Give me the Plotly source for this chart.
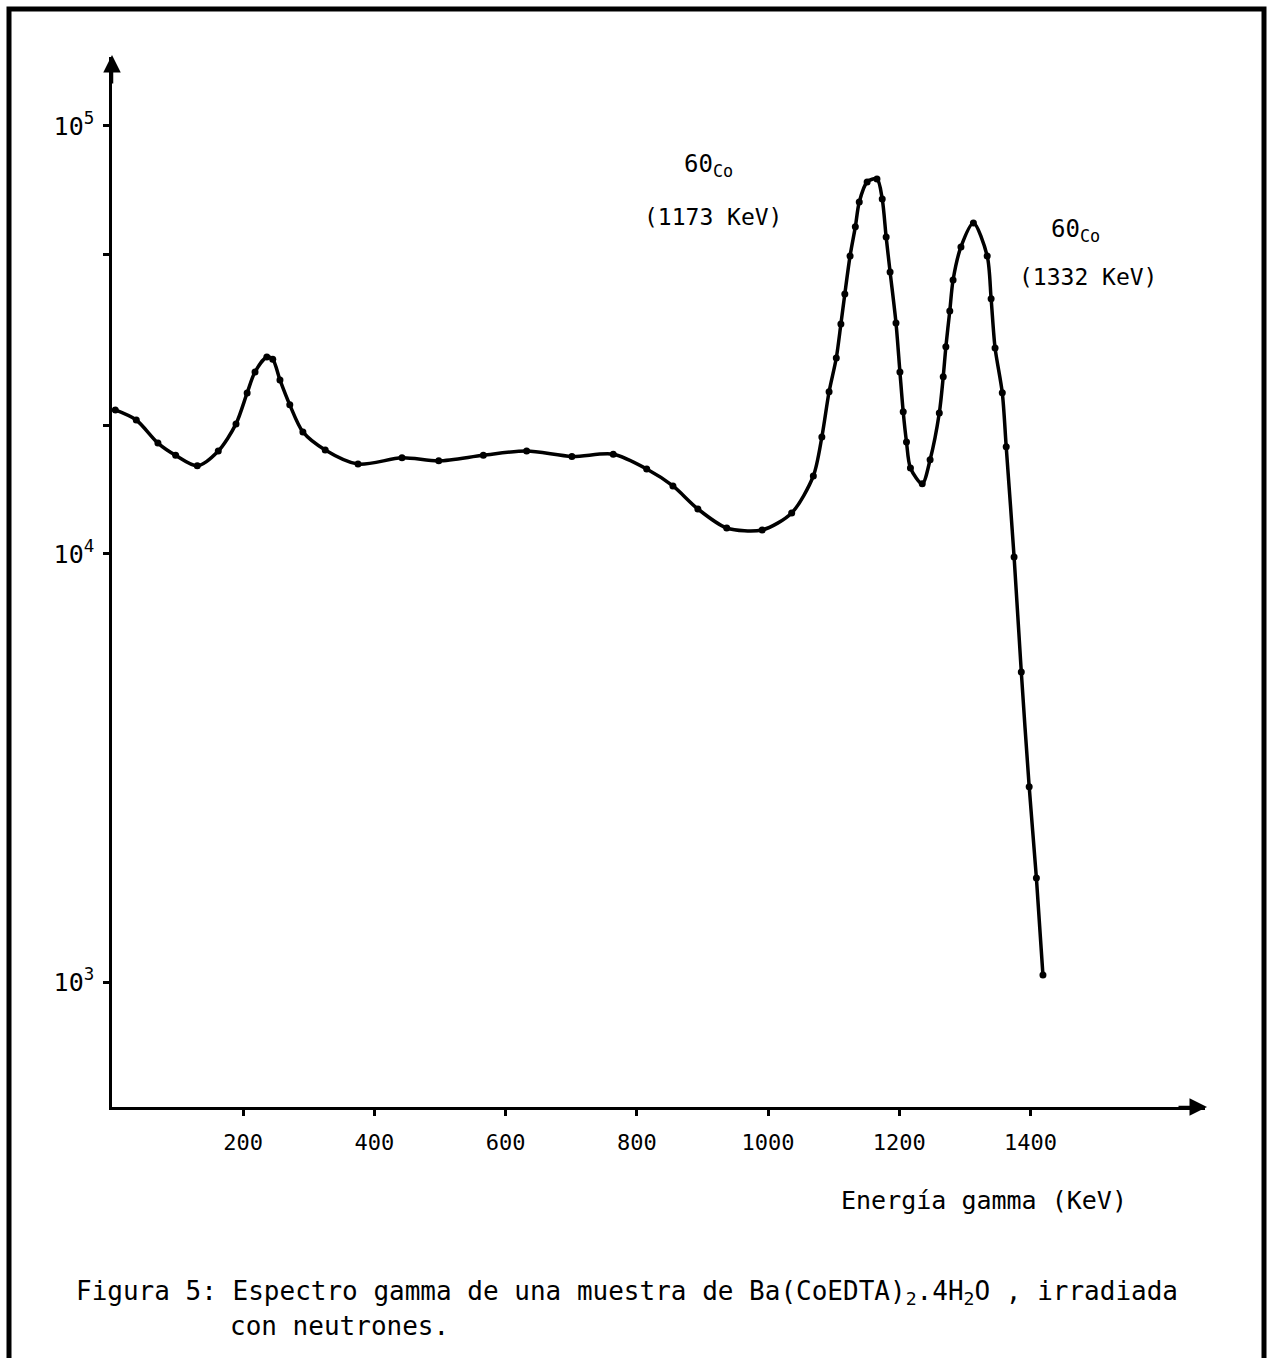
import plotly.graph_objects as go

# Energy (keV) and counts
energia = [5, 37, 70, 97, 130, 162, 189, 206, 218, 236, 245, 256, 271, 291, 325, 375,
           442, 498, 566, 632, 701, 764, 815, 855, 893, 937, 991, 1036, 1069, 1082,
           1093, 1104, 1111, 1117, 1125, 1133, 1139, 1151, 1166, 1174, 1180, 1186,
           1195, 1201, 1206, 1211, 1217, 1235, 1247, 1261, 1267, 1271, 1277, 1282,
           1294, 1313, 1334, 1340, 1346, 1357, 1363, 1375, 1386, 1398, 1409, 1419]
cuentas = [21700, 20560, 18160, 17000, 16070, 17400, 20130, 23780, 26620, 28850, 28500,
           25500, 22300, 19280, 17500, 16220, 16770, 16500, 17000, 17400, 16900, 17100,
           15800, 14420, 12740, 11500, 11380, 12470, 15210, 18760, 23930, 28700, 34440,
           40480, 49700, 58100, 66400, 74000, 75200, 67500, 55000, 45600, 34650, 26600,
           21480, 18270, 15880, 14580, 16600, 21340, 25930, 30470, 36970, 43650, 52160,
           59300, 49700, 39450, 30300, 23800, 17800, 9840, 5300, 2860, 1750, 1038]

x_ticks = [200, 400, 600, 800, 1000, 1200, 1400]
y_ticks = [1000, 10000, 20000, 50000, 100000]
y_ticktext = ["10<sup>3</sup>", "10<sup>4</sup>", "", "", "10<sup>5</sup>"]

W, H = 1271, 1358
L, R, T, B = 112, 66, 57, 251
PW, PH = W - L - R, H - T - B

def px(xp):
    return (xp - L) / PW

def py(yp):
    return (H - B - yp) / PH

FONT = "DejaVu Sans Mono"

fig = go.Figure()
fig.add_trace(go.Scatter(
    x=energia, y=cuentas, mode="lines+markers",
    line=dict(color="black", width=3.5, shape="spline", smoothing=0.8),
    marker=dict(color="black", size=7),
    showlegend=False, hoverinfo="skip"))

fig.update_layout(
    width=W, height=H,
    margin=dict(l=L, r=R, t=T, b=B, pad=0),
    paper_bgcolor="white", plot_bgcolor="white",
    font=dict(family=FONT, color="black", size=21),
    xaxis=dict(range=[0, 1666], showgrid=False, zeroline=False,
               showline=True, linecolor="black", linewidth=2.5,
               tickmode="array", tickvals=x_ticks,
               ticks="outside", ticklen=6, tickwidth=3, tickcolor="black",
               ticklabelstandoff=8, tickfont=dict(family=FONT, size=22)),
    yaxis=dict(type="log", range=[2.708, 5.161], showgrid=False, zeroline=False,
               showline=True, linecolor="black", linewidth=2.5,
               tickmode="array", tickvals=y_ticks, ticktext=y_ticktext,
               ticks="outside", ticklen=6, tickwidth=3, tickcolor="black",
               ticklabelstandoff=4, tickfont=dict(family=FONT, size=25)),
)

# axis arrowheads
fig.add_annotation(x=px(1207), y=0, xref="paper", yref="paper", text="",
                   showarrow=True, arrowhead=2, arrowsize=1.4, arrowwidth=2.5,
                   arrowcolor="black", ax=-30, ay=0)
fig.add_annotation(x=0, y=py(55), xref="paper", yref="paper", text="",
                   showarrow=True, arrowhead=2, arrowsize=1.4, arrowwidth=2.5,
                   arrowcolor="black", ax=0, ay=30)

# outer frame
fig.add_shape(type="rect", xref="paper", yref="paper",
              x0=px(9), x1=px(1264), y0=py(1400), y1=py(9),
              line=dict(color="black", width=5))

def label(xp, yp, text, size, anchor="center"):
    fig.add_annotation(x=px(xp), y=py(yp), xref="paper", yref="paper",
                       xanchor=anchor, yanchor="middle", text=text,
                       showarrow=False,
                       font=dict(family=FONT, size=size, color="black"))

label(708, 165, "60<sub>Co</sub>", 24)
label(713, 217, "(1173 KeV)", 23)
label(1075, 230, "60<sub>Co</sub>", 24)
label(1088, 277, "(1332 KeV)", 23)
label(984, 1200, "Energía gamma (KeV)", 25)
label(74, 1292, "Figura 5: Espectro gamma de una muestra de Ba(CoEDTA)<sub>2</sub>.4H<sub>2</sub>O , irradiada",
      26, anchor="left")
label(228, 1326, "con neutrones.", 26, anchor="left")

fig.write_html("out.html")
